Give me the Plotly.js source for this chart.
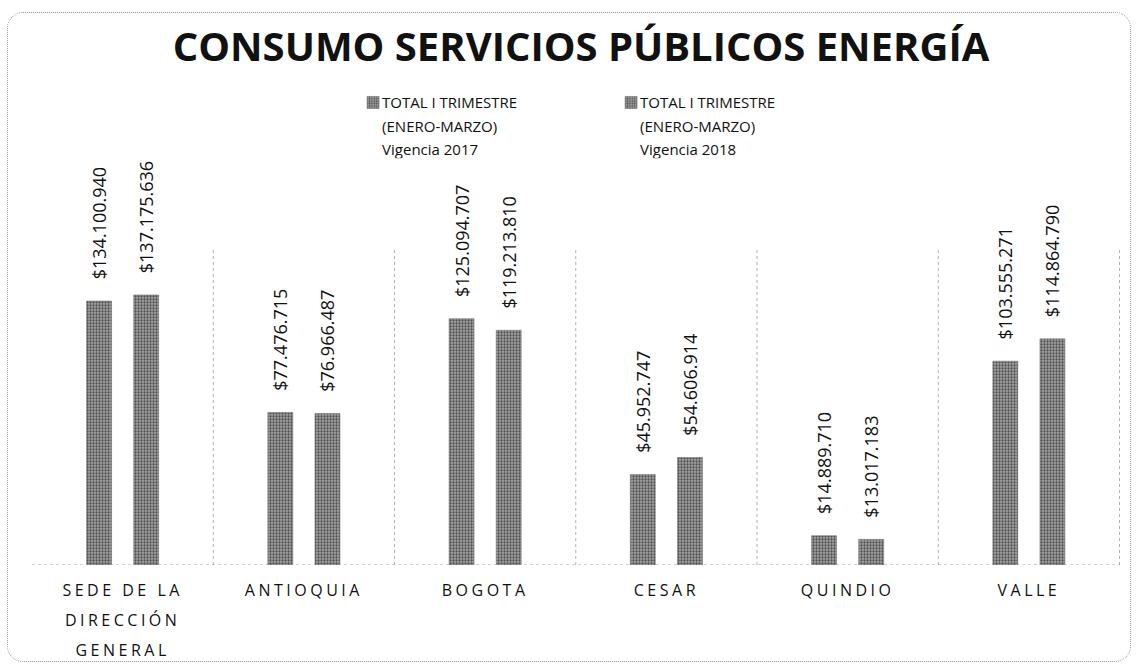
<!DOCTYPE html>
<html lang="es">
<head>
    <meta charset="UTF-8">
    <title>Consumo Servicios Públicos Energía</title>
    <script src="https://cdn.plot.ly/plotly-3.0.1.min.js"></script>
    <style>
        body { margin: 0; background: #fff; }
        #chart { width: 1137px; height: 666px; }
        #frame {
            position: absolute; left: 7px; top: 12px;
            width: 1122px; height: 648px;
            border: 1px dotted #9a9a9a; border-radius: 16px;
            pointer-events: none;
        }
        .xtick text { letter-spacing: 3.5px; }
    </style>
</head>
<body>
    <div id="chart"></div>
    <div id="frame"></div>

    <script>
        // datos
        const categorias = ['SEDE DE LA<br>DIRECCIÓN<br>GENERAL', 'ANTIOQUIA', 'BOGOTA', 'CESAR', 'QUINDIO', 'VALLE'];
        const vigencia2017 = [134100940, 77476715, 125094707, 45952747, 14889710, 103555271];
        const vigencia2018 = [137175636, 76966487, 119213810, 54606914, 13017183, 114864790];
        const nombres = [
            'TOTAL I TRIMESTRE<br>(ENERO-MARZO)<br>Vigencia 2017',
            'TOTAL I TRIMESTRE<br>(ENERO-MARZO)<br>Vigencia 2018'
        ];

        function pesos(v) {
            return '$' + v.toString().replace(/\B(?=(\d{3})+(?!\d))/g, '.');
        }

        const pad = '\u00A0\u00A0\u00A0\u00A0';

        function serie(valores, nombre) {
            return {
                type: 'bar',
                name: nombre,
                x: categorias,
                y: valores,
                text: valores.map(v => pad + pesos(v)),
                textposition: 'outside',
                textangle: -90,
                constraintext: 'none',
                cliponaxis: false,
                textfont: { family: 'Open Sans, sans-serif', size: 18, color: '#111' },
                marker: {
                    color: '#8a8a8a',
                    line: { color: '#666', width: 0.5 },
                    pattern: { shape: '.', fgcolor: '#505050', bgcolor: '#a4a4a4', size: 3, solidity: 0.45 }
                },
                hoverinfo: 'x+y'
            };
        }

        const data = [serie(vigencia2017, nombres[0]), serie(vigencia2018, nombres[1])];

        // líneas punteadas entre categorías
        const separadores = categorias.map((c, i) => ({
            type: 'line', xref: 'x', yref: 'y',
            x0: i + 0.5, x1: i + 0.5, y0: 0, y1: 160e6,
            line: { color: '#b0b0b0', width: 1, dash: 'dot' }
        }));
        separadores.push({
            type: 'line', xref: 'paper', yref: 'y',
            x0: 0, x1: 1, y0: 0, y1: 0,
            line: { color: '#a0a0a0', width: 1, dash: 'dot' }
        });

        const layout = {
            width: 1137,
            height: 666,
            margin: { l: 32, r: 17, t: 250, b: 101 },
            paper_bgcolor: '#fff',
            plot_bgcolor: '#fff',
            font: { family: 'Open Sans, sans-serif', color: '#111' },
            title: {
                text: '<b>CONSUMO SERVICIOS PÚBLICOS ENERGÍA</b>',
                font: { family: 'Open Sans, sans-serif', size: 40, color: '#111' },
                x: 0.511, xanchor: 'center',
                y: 0.93, yanchor: 'middle'
            },
            barmode: 'group',
            bargap: 0.48,
            bargroupgap: 0.47,
            showlegend: true,
            legend: {
                orientation: 'h',
                x: 0.285, xanchor: 'left',
                y: 1.52, yanchor: 'top',
                entrywidth: 213,
                valign: 'top',
                font: { family: 'Open Sans, sans-serif', size: 15, color: '#111' },
                itemwidth: 30,
                bgcolor: 'rgba(0,0,0,0)'
            },
            xaxis: {
                tickfont: { family: 'Open Sans, sans-serif', size: 16, color: '#111' },
                showgrid: false,
                zeroline: false,
                showline: false,
                ticks: '',
                ticklabelstandoff: 14
            },
            yaxis: {
                range: [0, 160e6],
                visible: false,
                showgrid: false,
                zeroline: false
            },
            shapes: separadores
        };

        function espaciar(selector, factor) {
            document.querySelectorAll(selector).forEach(t => {
                const dy = t.getAttribute('dy');
                if (dy && parseFloat(dy) !== 0) t.setAttribute('dy', (parseFloat(dy) * factor) + 'em');
            });
        }

        Plotly.newPlot('chart', data, layout, { displayModeBar: false, staticPlot: true }).then(() => {
            // interlineado más amplio, como en el original
            espaciar('.xtick text tspan.line', 1.45);
            espaciar('.legendtext tspan.line', 1.2);
            // símbolo de la leyenda más cerca del texto
            document.querySelectorAll('.legend .legendsymbols').forEach(g => {
                const tr = g.getAttribute('transform') || '';
                g.setAttribute('transform', tr + ' translate(11,0)');
            });
        });
    </script>
</body>
</html>
